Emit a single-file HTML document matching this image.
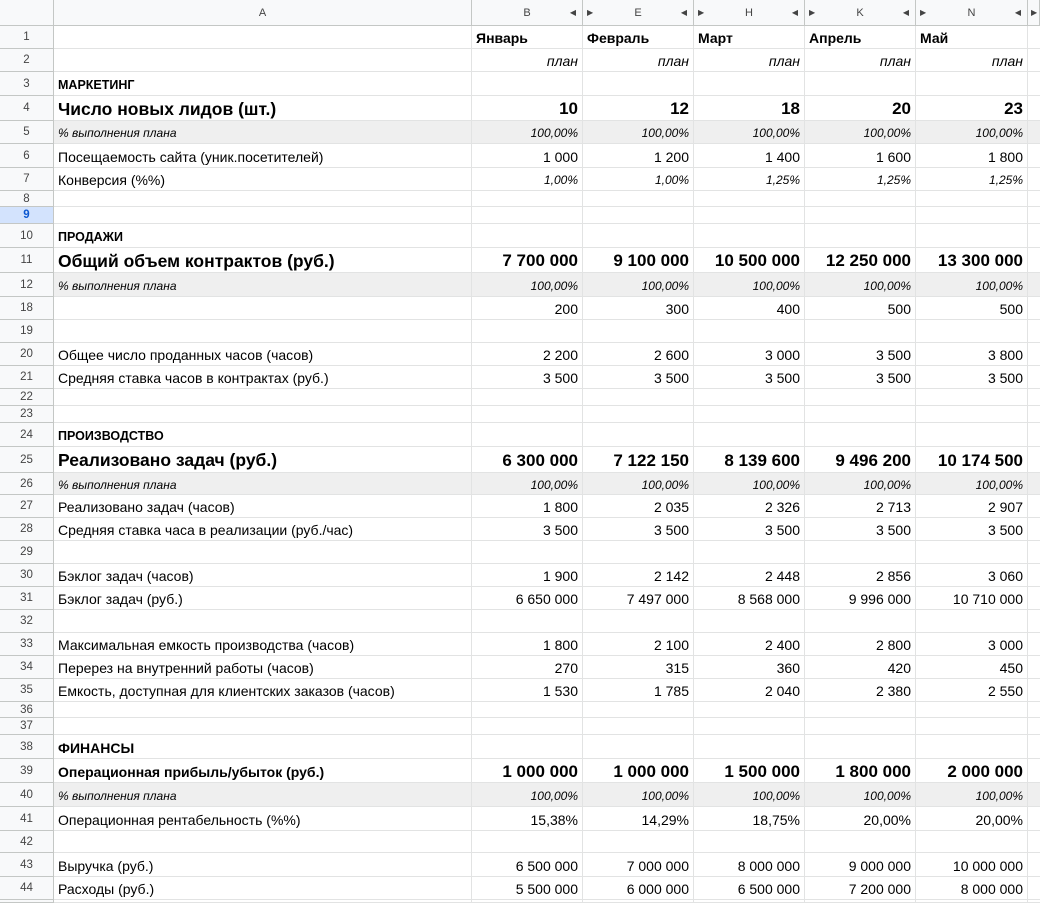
<!DOCTYPE html>
<html><head><meta charset="utf-8">
<style>
body{margin:0;width:1040px;height:903px;overflow:hidden;background:#fff;font-family:"Liberation Sans",Arial,sans-serif;color:#000;position:relative}
.c{position:absolute;box-sizing:border-box;white-space:nowrap;overflow:visible;border-right:1px solid #e2e3e3;border-bottom:1px solid #e2e3e3;display:flex;align-items:center;padding:2px 4px 0 4px;font-size:14px}
.h{background:#f8f9fa;color:#444;font-size:11px;justify-content:center;border-color:#c4c7c5;padding:0}
.rn{background:#f8f9fa;color:#444;font-size:11.5px;justify-content:center;border-color:#c4c7c5;padding:0}
.r{justify-content:flex-end}
.g{background:#efefef}
.arr{position:absolute;font-size:8px;color:#444;top:8px}
</style></head><body>
<div id="sheet"></div>
<script>
const colLefts=[0,54,472,583,694,805,916,1028,1040];
const colLetters=['','A','B','E','H','K','N',''];
const rowNums=[1,2,3,4,5,6,7,8,9,10,11,12,18,19,20,21,22,23,24,25,26,27,28,29,30,31,32,33,34,35,36,37,38,39,40,41,42,43,44,45];
const rowTops=[26,49,72,96,121,144,168,191,207,224,248,273,297,320,343,366,389,406,423,447,473,495,518,541,564,587,610,633,656,679,702,718,735,759,783,807,831,853,877,900,903];
const rows={
1:['', 'm',['Январь','Февраль','Март','Апрель','Май']],
2:['', 'p',['план','план','план','план','план']],
3:['МАРКЕТИНГ','s',[]],
4:['Число новых лидов (шт.)','b',['10','12','18','20','23']],
5:['% выполнения плана','i',['100,00%','100,00%','100,00%','100,00%','100,00%']],
6:['Посещаемость сайта (уник.посетителей)','n',['1 000','1 200','1 400','1 600','1 800']],
7:['Конверсия (%%)','n7',['1,00%','1,00%','1,25%','1,25%','1,25%']],
10:['ПРОДАЖИ','s',[]],
11:['Общий объем контрактов (руб.)','b',['7 700 000','9 100 000','10 500 000','12 250 000','13 300 000']],
12:['% выполнения плана','i',['100,00%','100,00%','100,00%','100,00%','100,00%']],
18:['','n',['200','300','400','500','500']],
20:['Общее число проданных часов (часов)','n',['2 200','2 600','3 000','3 500','3 800']],
21:['Средняя ставка часов в контрактах (руб.)','n',['3 500','3 500','3 500','3 500','3 500']],
24:['ПРОИЗВОДСТВО','s',[]],
25:['Реализовано задач (руб.)','b',['6 300 000','7 122 150','8 139 600','9 496 200','10 174 500']],
26:['% выполнения плана','i',['100,00%','100,00%','100,00%','100,00%','100,00%']],
27:['Реализовано задач (часов)','n',['1 800','2 035','2 326','2 713','2 907']],
28:['Средняя ставка часа в реализации (руб./час)','n',['3 500','3 500','3 500','3 500','3 500']],
30:['Бэклог задач (часов)','n',['1 900','2 142','2 448','2 856','3 060']],
31:['Бэклог задач (руб.)','n',['6 650 000','7 497 000','8 568 000','9 996 000','10 710 000']],
33:['Максимальная емкость производства (часов)','n',['1 800','2 100','2 400','2 800','3 000']],
34:['Перерез на внутренний работы (часов)','n',['270','315','360','420','450']],
35:['Емкость, доступная для клиентских заказов (часов)','n',['1 530','1 785','2 040','2 380','2 550']],
38:['ФИНАНСЫ','s2',[]],
39:['Операционная прибыль/убыток (руб.)','b2',['1 000 000','1 000 000','1 500 000','1 800 000','2 000 000']],
40:['% выполнения плана','i',['100,00%','100,00%','100,00%','100,00%','100,00%']],
41:['Операционная рентабельность (%%)','n',['15,38%','14,29%','18,75%','20,00%','20,00%']],
43:['Выручка (руб.)','n',['6 500 000','7 000 000','8 000 000','9 000 000','10 000 000']],
44:['Расходы (руб.)','n',['5 500 000','6 000 000','6 500 000','7 200 000','8 000 000']]
};
const sheet=document.getElementById('sheet');
function cell(x,y,w,h,cls,txt){const d=document.createElement('div');d.className='c '+cls;d.style.left=x+'px';d.style.top=y+'px';d.style.width=w+'px';d.style.height=h+'px';d.textContent=txt;sheet.appendChild(d);return d;}
for(let i=0;i<colLetters.length;i++){
 const d=cell(colLefts[i],0,colLefts[i+1]-colLefts[i],26,'h',colLetters[i]);
 
 
 if(i>=2&&i<=6){
  const a=document.createElement('span');a.className='arr';a.textContent='◀';a.style.right='6px';d.appendChild(a);
  const b=document.createElement('span');b.className='arr';b.textContent='▶';b.style.left='4px';if(i>2)d.appendChild(b);
 }
 if(i===7){const b=document.createElement('span');b.className='arr';b.textContent='▶';b.style.left='3px';d.appendChild(b);}
}
rowNums.forEach((n,ri)=>{
 const y=rowTops[ri],h=rowTops[ri+1]-y;
 const rn=cell(0,y,54,h,'rn',n===45?'':String(n));
 
 
 if(n===9){rn.style.background='#d3e3fd';rn.style.fontWeight='bold';rn.style.color='#0b57d0';}
 const def=rows[n]||['','n',[]];
 const st=def[1];const grey=st==='i';
 for(let c=1;c<=7;c++){
  const x=colLefts[c],w=colLefts[c+1]-x;
  let txt='';
  if(c===1)txt=def[0];else if(c<=6)txt=def[2][c-2]||'';
  const d=cell(x,y,w,h,(grey?'g ':'')+(c>=2&&st!=='m'?'r':''),txt);
  
  
  if(c===7)d.style.borderRight='none';
  if(st==='b'){d.style.fontWeight='bold';d.style.fontSize=c===1?'17.5px':'17px';}
  if(st==='b2'){d.style.fontWeight='bold';d.style.fontSize=c===1?'14px':'17px';}
  if(st==='s'){d.style.fontWeight='bold';d.style.fontSize='12.5px';}
  if(st==='s2'){d.style.fontWeight='bold';d.style.fontSize='14px';}
  if(st==='i'){d.style.fontStyle='italic';d.style.fontSize='12px';}
  if(st==='n7'&&c>=2){d.style.fontStyle='italic';d.style.fontSize='12px';}
  if(st==='m'){d.style.fontWeight='bold';}
  if(st==='p'){d.style.fontStyle='italic';}
 }
});
</script>
</body></html>
